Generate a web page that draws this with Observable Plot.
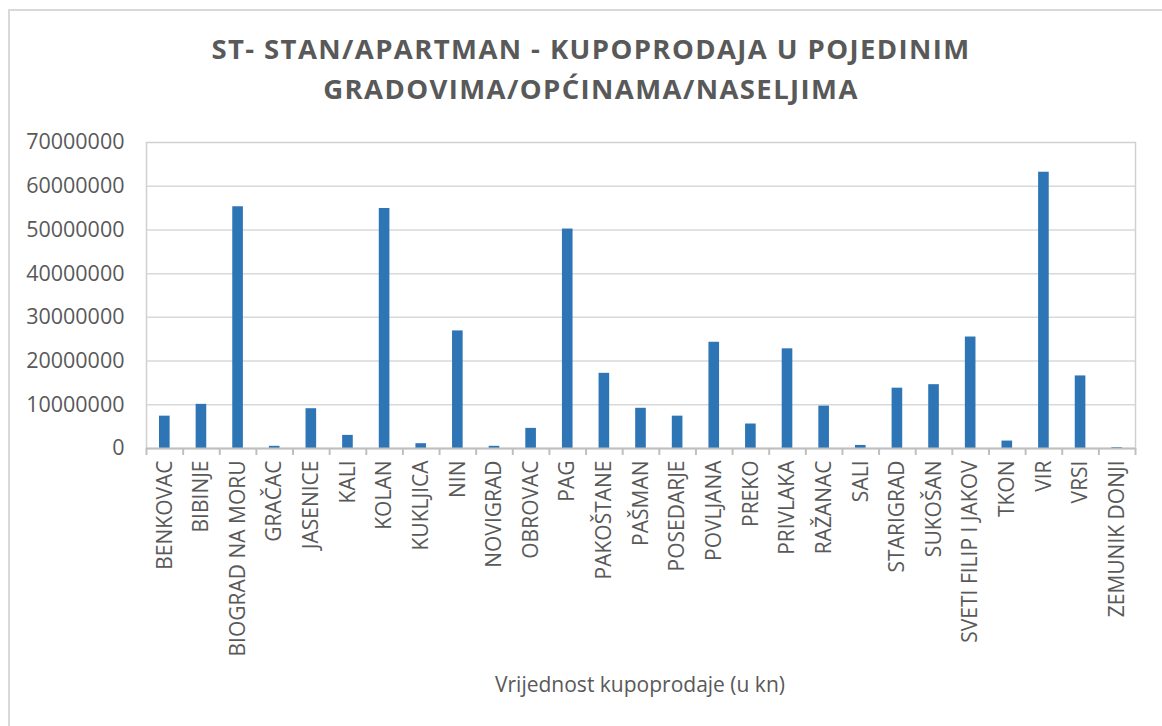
<!DOCTYPE html>
<html>
<head>
<meta charset="utf-8">
<script src="https://cdn.jsdelivr.net/npm/d3@7"></script>
<script src="https://cdn.jsdelivr.net/npm/@observablehq/plot@0.6"></script>
<style>
  html, body { margin: 0; padding: 0; background: #fff; }
  #wrap { position: relative; width: 1162px; height: 726px; overflow: hidden; font-family: "Open Sans", sans-serif; }
  #border { position: absolute; left: 8px; top: 9px; width: 1170px; height: 740px; border: 2px solid #d9d9d9; box-sizing: border-box; }
  #title { position: absolute; left: 0; width: 1182px; top: 29px; text-align: center; font-weight: bold; font-size: 27.5px; line-height: 40px; color: #595959; letter-spacing: 1.4px; }
  #chart { position: absolute; left: 0; top: 120px; }
  #xtitle { position: absolute; left: 0; width: 1280px; top: 670px; text-align: center; font-size: 21px; color: #595959; }
</style>
</head>
<body>
<div id="wrap">
  <div id="border"></div>
  <div id="title">ST- STAN/APARTMAN - KUPOPRODAJA U POJEDINIM<br>GRADOVIMA/OPĆINAMA/NASELJIMA</div>
  <div id="chart"></div>
  <div id="xtitle">Vrijednost kupoprodaje (u kn)</div>
</div>
<script>
const categories = ["BENKOVAC","BIBINJE","BIOGRAD NA MORU","GRAČAC","JASENICE","KALI","KOLAN","KUKLJICA","NIN","NOVIGRAD","OBROVAC","PAG","PAKOŠTANE","PAŠMAN","POSEDARJE","POVLJANA","PREKO","PRIVLAKA","RAŽANAC","SALI","STARIGRAD","SUKOŠAN","SVETI FILIP I JAKOV","TKON","VIR","VRSI","ZEMUNIK DONJI"];
const values = [7400000,10100000,55300000,500000,9100000,3000000,54900000,1100000,26900000,500000,4600000,50200000,17200000,9200000,7400000,24300000,5600000,22800000,9700000,700000,13800000,14600000,25500000,1700000,63200000,16600000,200000];
const yTicks = [0,10000000,20000000,30000000,40000000,50000000,60000000,70000000];

const data = categories.map((c, i) => ({cat: c, value: values[i]}));

const W = 1162, H = 560, ML = 146, MR = 27, MT = 22, MB = 232;
const step = (W - ML - MR) / categories.length;
const tickLen = 7; // px
const yPerPx = 70000000 / (H - MT - MB);

const plot = Plot.plot({
  width: W, height: H,
  marginLeft: ML, marginRight: MR, marginTop: MT, marginBottom: MB,
  style: {fontFamily: "'Open Sans', sans-serif", color: "#595959", background: "transparent"},
  x: {domain: categories, paddingInner: 0.71, paddingOuter: 0.355, round: false, axis: null},
  y: {domain: [0, 70000000], axis: null},
  marks: [
    Plot.ruleY(yTicks.slice(1, -1), {stroke: "#d9d9d9", strokeWidth: 1.5}),
    Plot.frame({stroke: "#d0d0d0", strokeWidth: 1.5}),
    Plot.barY(data, {x: "cat", y: "value", fill: "#2e75b6"}),
    Plot.ruleY([0], {stroke: "#bfbfbf", strokeWidth: 2}),
    // category boundary ticks below axis
    Plot.ruleX(categories, {x: d => d, y1: 0, y2: -tickLen * yPerPx, dx: -step / 2, stroke: "#bfbfbf", strokeWidth: 2}),
    Plot.ruleX(categories.slice(-1), {x: d => d, y1: 0, y2: -tickLen * yPerPx, dx: step / 2, stroke: "#bfbfbf", strokeWidth: 2}),
    Plot.axisY({ticks: yTicks, tickSize: 0, tickPadding: 22, tickFormat: d => String(d), fontSize: 21.5, fill: "#595959", label: null}),
    Plot.axisX({tickSize: 0, tickRotate: -90, tickPadding: 12, fontSize: 21, fill: "#595959", label: null})
  ]
});
document.getElementById("chart").appendChild(plot);
</script>
</body>
</html>
